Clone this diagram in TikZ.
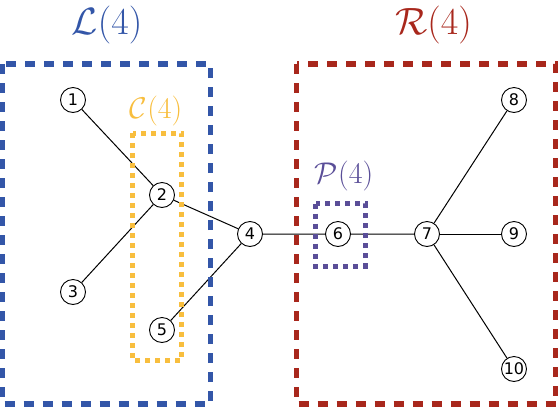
\RequirePackage{fix-cm}
\documentclass[tikz,border=0pt]{standalone}
\usepackage{fontspec}
\newfontfamily\vertexfont{DejaVu Sans}
\usepackage{amsmath}
\usepackage{tikz}

\definecolor{lblue}{RGB}{51,86,168}
\definecolor{cyellow}{RGB}{248,190,62}
\definecolor{rred}{RGB}{168,39,28}
\definecolor{ppurple}{RGB}{90,78,152}

\begin{document}
\begin{tikzpicture}[x=1pt, y=-1pt, auto,
    vertex/.style={circle, draw, fill=white, line width=0.9pt, minimum size=25pt, inner sep=0pt, font=\vertexfont\fontsize{16}{16}\selectfont},
    bigbox/.style={line width=5.5pt, dash pattern=on 10pt off 9pt},
    smallbox/.style={line width=5pt, dash pattern=on 5pt off 5pt},
    biglabel/.style={inner sep=0pt, font=\fontsize{38}{46}\selectfont},
    smalllabel/.style={inner sep=0pt, font=\fontsize{30}{36}\selectfont}]

    \useasboundingbox (0,0) rectangle (558,408);

    % Define vertices with coordinates
    \node[vertex] (v1) at (73,100) {1};
    \node[vertex] (v2) at (162,195) {2};
    \node[vertex] (v3) at (73,292) {3};
    \node[vertex] (v4) at (250,234) {4};
    \node[vertex] (v5) at (162,330) {5};
    \node[vertex] (v6) at (338,234) {6};
    \node[vertex] (v7) at (427,234) {7};
    \node[vertex] (v8) at (514,100) {8};
    \node[vertex] (v9) at (514,234) {9};
    \node[vertex] (v10) at (514,369) {10};

    % Draw edges of the tree
    \draw[line width=1pt] (v1) -- (v2) -- (v3);
    \draw[line width=1pt] (v2) -- (v4) -- (v5);
    \draw[line width=1pt] (v4) -- (v6) -- (v7) -- (v8);
    \draw[line width=1pt] (v7) -- (v9);
    \draw[line width=1pt] (v7) -- (v10);

    % Boxes around the parts
    \draw[bigbox, lblue] (2.5,64) rectangle (210.5,404);
    \draw[bigbox, rred] (296.5,64) rectangle (556,404);
    \draw[smallbox, cyellow] (132.5,133) rectangle (181.5,360.5);
    \draw[smallbox, ppurple] (315.5,203.5) rectangle (365,266);

    % Labels of the parts
    \node[biglabel, text=lblue] (lleft) at (107,25) {$\mathcal{L}(4)$};
    \node[biglabel, text=rred] (lright) at (433.5,25) {$\mathcal{R}(4)$};
    \node[smalllabel, text=cyellow] (lcenter) at (156,111) {$\mathcal{C}(4)$};
    \node[smalllabel, text=ppurple] (lpath) at (344,176) {$\mathcal{P}(4)$};

\end{tikzpicture}
\end{document}
